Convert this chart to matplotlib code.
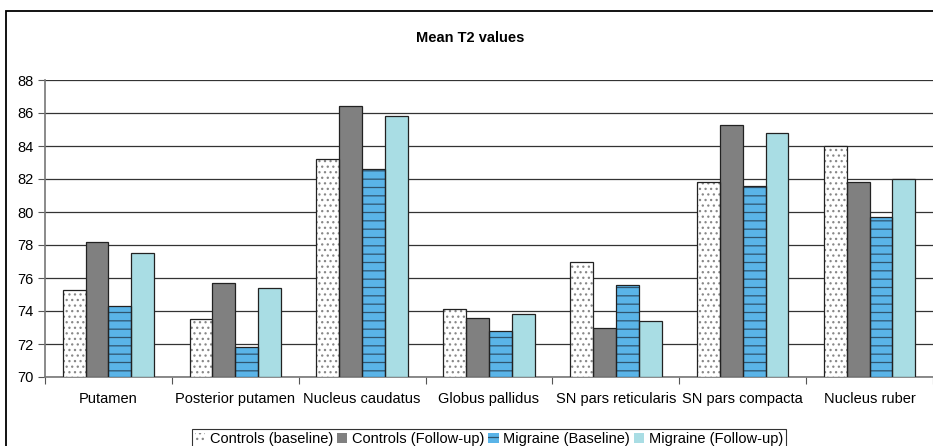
import numpy as np
import matplotlib
matplotlib.use("Agg")
import matplotlib.pyplot as plt
from matplotlib.patches import Rectangle

plt.rcParams['font.family'] = ['Liberation Sans', 'DejaVu Sans']
plt.rcParams['hatch.linewidth'] = 0.9

# data
regions = ['Putamen', 'Posterior putamen', 'Nucleus caudatus', 'Globus pallidus',
           'SN pars reticularis', 'SN pars compacta', 'Nucleus ruber']
controls_base = [75.3, 73.5, 83.2, 74.1, 77.0, 81.8, 84.0]
controls_fu = [78.2, 75.7, 86.4, 73.6, 73.0, 85.3, 81.8]
migraine_base = [74.3, 71.8, 82.6, 72.8, 75.6, 81.6, 79.7]
migraine_fu = [77.5, 75.4, 85.8, 73.8, 73.4, 84.8, 82.0]
series_names = ['Controls (baseline)', 'Controls (Follow-up)',
                'Migraine (Baseline)', 'Migraine (Follow-up)']
yticks = np.arange(70, 89, 2)

fig = plt.figure(figsize=(9.33, 4.46), dpi=100)
# outer chart frame
fig.patches.append(Rectangle((6 / 933, -0.1), 1.0, (446 - 11) / 446 + 0.1,
                             transform=fig.transFigure, fill=False,
                             edgecolor='black', linewidth=1.3))

ax = fig.add_axes([45 / 933, (446 - 377) / 446, 888 / 933, (377 - 80) / 446])

x = np.arange(len(regions))
w = 0.18
styles = [
    dict(facecolor='white', hatch='...', edgecolor='#888888'),
    dict(facecolor='#808080', edgecolor='black'),
    dict(facecolor='#5ab4e8', hatch='--', edgecolor='#2f5570'),
    dict(facecolor='#a9dde4', edgecolor='black'),
]
all_vals = [controls_base, controls_fu, migraine_base, migraine_fu]
handles = []
for i, (vals, st) in enumerate(zip(all_vals, styles)):
    bars = ax.bar(x + (i - 1.5) * w, np.array(vals) - 70, bottom=70, width=w,
                  linewidth=0.0, label=series_names[i], zorder=3, **st)
    # black outline drawn separately so hatch colour stays soft
    ax.bar(x + (i - 1.5) * w, np.array(vals) - 70, bottom=70, width=w,
           fill=False, edgecolor='#222222', linewidth=0.9, zorder=4)
    handles.append(bars)

ax.set_xlim(-0.5, len(regions) - 0.5)
ax.set_ylim(70, 88)
ax.set_yticks(yticks)
ax.set_yticklabels([str(v) for v in yticks], fontsize=10.5)
ax.set_xticks(np.arange(len(regions) + 1) - 0.5, minor=False)
ax.set_xticklabels([])
ax.set_xticks(x, minor=True)
ax.set_xticklabels(regions, minor=True, fontsize=10.5)
ax.tick_params(axis='x', which='minor', length=0, pad=11)
ax.tick_params(axis='x', which='major', length=5, direction='out', color='#555555')
ax.tick_params(axis='y', length=5, direction='out', color='#555555', pad=3)
ax.yaxis.grid(True, color='#333333', linewidth=0.9, zorder=0)
for s in ['top', 'right']:
    ax.spines[s].set_visible(False)
ax.spines['left'].set_color('#777777')
ax.spines['bottom'].set_color('#777777')
ax.spines['left'].set_linewidth(1.2)
ax.spines['bottom'].set_linewidth(1.2)

fig.text(470 / 933, 1 - 38 / 446, 'Mean T2 values', ha='center', va='center',
         fontsize=10.5, fontweight='bold')

leg = fig.legend(handles=handles, loc='upper left', bbox_to_anchor=(192 / 933, 1 - 429 / 446),
                 ncol=4, fontsize=10.5, frameon=True, fancybox=False, edgecolor='black',
                 handlelength=0.7, handleheight=0.7, handletextpad=0.3, columnspacing=0.3,
                 borderpad=0.2, borderaxespad=0)
leg.get_frame().set_linewidth(0.8)

fig.savefig('out.png', dpi=100)
